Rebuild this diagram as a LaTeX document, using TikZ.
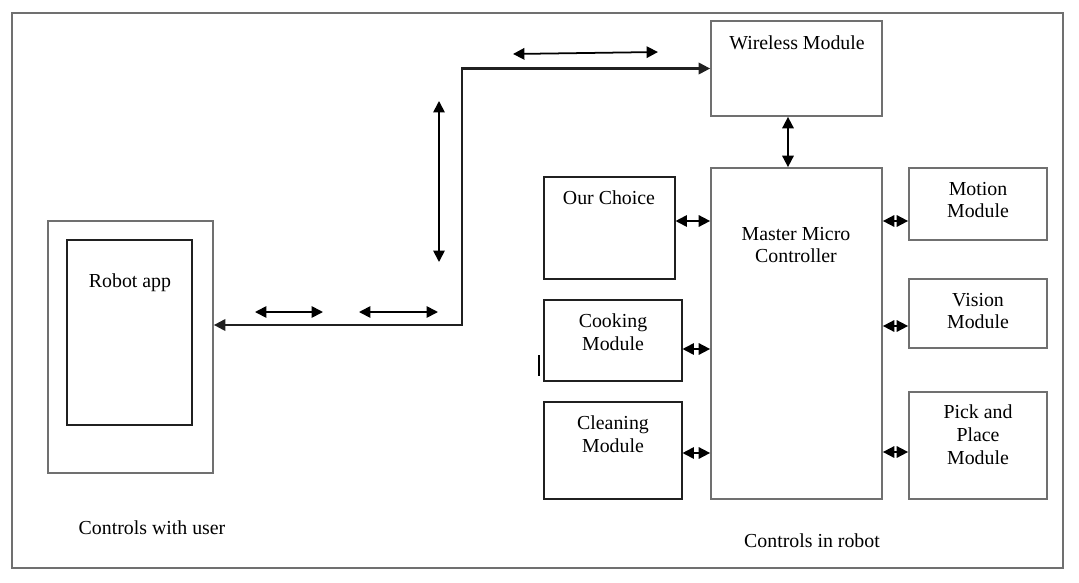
\documentclass[tikz,border=0pt]{standalone}
\usepackage{fontspec}
\setmainfont{Liberation Serif}
\usetikzlibrary{arrows.meta,positioning}

\definecolor{rim}{HTML}{707070}
\definecolor{ink}{HTML}{202020}

\tikzset{
  blk/.style 2 args={draw=rim, line width=1pt, inner sep=0pt,
    minimum width=#1*0.02cm, minimum height=#2*0.02cm},
  dblk/.style 2 args={blk={#1}{#2}, draw=ink, line width=.6pt},
  txt/.style={inner sep=0pt, align=center, font=\fontsize{11.3}{13}\selectfont},
  dbl/.style={{Triangle[length=6.5pt,width=6.5pt]}-{Triangle[length=6.5pt,width=6.5pt]}, line width=1pt, black},
}

\begin{document}
\begin{tikzpicture}[x=0.02cm, y=-0.02cm]

	\useasboundingbox (0,0) rectangle (1079,582);
	\draw[rim, line width=1pt] (12,13) rectangle (1063,568);

	% user side
	\node[blk={165}{252}] (phone) at (130.5,347) {};
	\node[dblk={125}{185}] (app) at (129.5,332.5) {};
	\node[txt] (applbl) at (130,283) {Robot app};
	\node[txt] (userlbl) at (152,528) {Controls with user};

	% robot side
	\node[blk={171}{95}] (wifi) at (796.5,68.5) {};
	\node[txt] (wifilbl) at (797,43) {Wireless Module};

	\node[blk={171}{331}] (master) at (796.5,333.5) {};
	\node[txt] (masterlbl) at (796,245) {Master Micro\\Controller};

	\node[dblk={131}{102}] (choice) at (609.5,228) {};
	\node[txt] (choicelbl) at (609,198) {Our Choice};

	\node[dblk={138}{81}] (cook) at (613,340.5) {};
	\node[txt] (cooklbl) at (613,332) {Cooking\\Module};

	\node[dblk={138}{97}] (clean) at (613,450.5) {};
	\node[txt] (cleanlbl) at (613,434) {Cleaning\\Module};

	\node[blk={138}{72}] (motion) at (978,204) {};
	\node[txt] (motionlbl) at (978,200) {Motion\\Module};

	\node[blk={138}{69}] (vision) at (978,313.5) {};
	\node[txt] (visionlbl) at (978,311) {Vision\\Module};

	\node[blk={138}{107}] (pick) at (978,445.5) {};
	\node[txt] (picklbl) at (978,435) {Pick and\\Place\\Module};

	\node[txt] (robotlbl) at (812,541) {Controls in robot};

	% links to the master
	\draw[dbl] ([xshift=-0.17cm]wifi.south) -- ([xshift=-0.17cm]master.north);
	\coordinate (c1) at ([yshift=0.14cm]choice.east);
	\coordinate (c2) at ([yshift=-0.17cm]cook.east);
	\coordinate (c3) at ([yshift=-0.05cm]clean.east);
	\coordinate (c4) at ([yshift=-0.34cm]motion.west);
	\coordinate (c5) at ([yshift=-0.25cm]vision.west);
	\coordinate (c6) at ([yshift=-0.13cm]pick.west);
	\draw[dbl] (c1) -- (c1 -| master.west);
	\draw[dbl] (c2) -- (c2 -| master.west);
	\draw[dbl] (c3) -- (c3 -| master.west);
	\draw[dbl] (c4 -| master.east) -- (c4);
	\draw[dbl] (c5 -| master.east) -- (c5);
	\draw[dbl] (c6 -| master.east) -- (c6);

	% wireless path
	\coordinate (p1) at ([yshift=0.44cm]phone.east);
	\coordinate (hub) at (462,0);
	\draw[dbl, ink, line width=1.2pt] (p1) -| (hub |- wifi.west) -- (wifi.west);

	% loose arrows
	\coordinate (h1a) at (255,312);
	\coordinate (h1b) at (323,312);
	\coordinate (h2a) at (359,312);
	\coordinate (h2b) at (438,312);
	\coordinate (v1a) at (439,101);
	\coordinate (v1b) at (439,262);
	\coordinate (t1a) at (513,54);
	\coordinate (t1b) at (658,52);
	\draw[dbl] (h1a) -- (h1b);
	\draw[dbl] (h2a) -- (h2b);
	\draw[dbl] (v1a) -- (v1b);
	\draw[dbl] (t1a) -- (t1b);

	\coordinate (m1) at (539,355);
	\coordinate (m2) at (539,376);
	\draw[black, line width=.6pt] (m1) -- (m2);

\end{tikzpicture}
\end{document}
